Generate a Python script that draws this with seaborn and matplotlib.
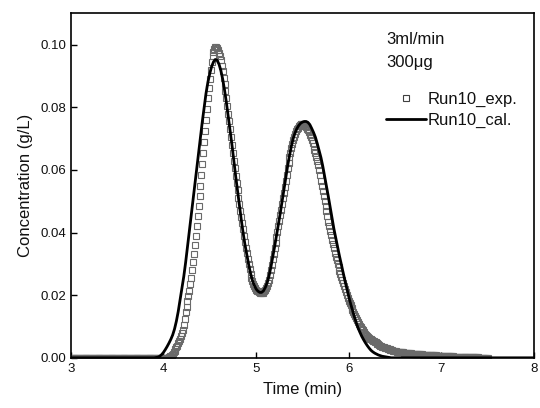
import numpy as np
import pandas as pd
import matplotlib
matplotlib.use("Agg")
import matplotlib.pyplot as plt
from matplotlib.lines import Line2D
from matplotlib.ticker import FormatStrFormatter
import seaborn as sns

# experimental points, one every 0.01 min from 3.00 to 7.50
exp_t = np.round(np.arange(3.00, 7.5001, 0.01), 2)
exp_c = [
    0, 0, 0, 0, 0, 0, 0, 0, 0, 0,
    0, 0, 0, 0, 0, 0, 0, 0, 0, 0,
    0, 0, 0, 0, 0, 0, 0, 0, 0, 0,
    0, 0, 0, 0, 0, 0, 0, 0, 0, 0,
    0, 0, 0, 0, 0, 0, 0, 0, 0, 0,
    0, 0, 0, 0, 0, 0, 0, 0, 0, 0,
    0, 0, 0, 0, 0, 0, 0, 0, 0, 0,
    0, 0, 0, 0, 0, 0, 0, 0, 0, 0,
    0, 0, 0, 0, 0, 0, 0, 0, 0, 0,
    0, 0, 0, 0, 0, 0, 0, 0, 0, 0,
    0, 0, 0, 0, 0, 0.0001, 0.0003, 0.0005, 0.0007, 0.0010,
    0.0013, 0.0017, 0.0022, 0.0027, 0.0033, 0.0039, 0.0046, 0.0053, 0.0060, 0.0069,
    0.0078, 0.0090, 0.0105, 0.0124, 0.0145, 0.0162, 0.0180, 0.0197, 0.0215, 0.0235,
    0.0255, 0.0280, 0.0305, 0.0332, 0.0360, 0.0390, 0.0420, 0.0452, 0.0485, 0.0517,
    0.0550, 0.0585, 0.0620, 0.0655, 0.0690, 0.0725, 0.0760, 0.0795, 0.0830, 0.0862,
    0.0890, 0.0920, 0.0945, 0.0964, 0.0978, 0.0988, 0.0993, 0.0994, 0.0990, 0.0984,
    0.0975, 0.0964, 0.0950, 0.0933, 0.0915, 0.0895, 0.0875, 0.0853, 0.0830, 0.0805,
    0.0780, 0.0755, 0.0730, 0.0705, 0.0680, 0.0655, 0.0630, 0.0605, 0.0580, 0.0557,
    0.0535, 0.0512, 0.0490, 0.0470, 0.0450, 0.0430, 0.0410, 0.0390, 0.0370, 0.0352,
    0.0335, 0.0317, 0.0300, 0.0284, 0.0268, 0.0256, 0.0245, 0.0236, 0.0228, 0.0223,
    0.0218, 0.0215, 0.0212, 0.0210, 0.0208, 0.0207, 0.0207, 0.0208, 0.0210, 0.0213,
    0.0218, 0.0223, 0.0230, 0.0240, 0.0250, 0.0265, 0.0280, 0.0297, 0.0315, 0.0332,
    0.0350, 0.0367, 0.0385, 0.0402, 0.0420, 0.0437, 0.0455, 0.0472, 0.0490, 0.0509,
    0.0528, 0.0546, 0.0565, 0.0585, 0.0605, 0.0622, 0.0640, 0.0655, 0.0670, 0.0683,
    0.0695, 0.0705, 0.0715, 0.0723, 0.0730, 0.0735, 0.0740, 0.0743, 0.0746, 0.0747,
    0.0747, 0.0745, 0.0743, 0.0740, 0.0737, 0.0732, 0.0727, 0.0720, 0.0712, 0.0704,
    0.0696, 0.0686, 0.0676, 0.0665, 0.0654, 0.0642, 0.0630, 0.0615, 0.0600, 0.0583,
    0.0565, 0.0548, 0.0532, 0.0516, 0.0500, 0.0484, 0.0468, 0.0452, 0.0435, 0.0420,
    0.0405, 0.0391, 0.0377, 0.0363, 0.0350, 0.0336, 0.0322, 0.0311, 0.0300, 0.0289,
    0.0278, 0.0267, 0.0257, 0.0248, 0.0240, 0.0230, 0.0220, 0.0210, 0.0200, 0.0191,
    0.0183, 0.0175, 0.0168, 0.0160, 0.0153, 0.0146, 0.0140, 0.0133, 0.0127, 0.0121,
    0.0115, 0.0109, 0.0103, 0.0098, 0.0093, 0.0088, 0.0084, 0.0080, 0.0076, 0.0072,
    0.0069, 0.0066, 0.0063, 0.0061, 0.0059, 0.0057, 0.0055, 0.0053, 0.0051, 0.0049,
    0.0047, 0.0045, 0.0043, 0.0041, 0.0039, 0.0037, 0.0036, 0.0034, 0.0033, 0.0032,
    0.0031, 0.0030, 0.0029, 0.0028, 0.0027, 0.0026, 0.0025, 0.0024, 0.0023, 0.0022,
    0.0021, 0.0021, 0.0020, 0.0020, 0.0019, 0.0019, 0.0018, 0.0018, 0.0017, 0.0017,
    0.0016, 0.0016, 0.0015, 0.0015, 0.0015, 0.0015, 0.0014, 0.0014, 0.0013, 0.0013,
    0.0013, 0.0013, 0.0012, 0.0012, 0.0012, 0.0012, 0.0011, 0.0011, 0.0011, 0.0011,
    0.0010, 0.0010, 0.0010, 0.0010, 0.0009, 0.0009, 0.0009, 0.0009, 0.0009, 0.0008,
    0.0008, 0.0008, 0.0008, 0.0008, 0.0008, 0.0007, 0.0007, 0.0007, 0.0007, 0.0007,
    0.0007, 0.0006, 0.0006, 0.0006, 0.0006, 0.0006, 0.0006, 0.0005, 0.0005, 0.0005,
    0.0005, 0.0005, 0.0005, 0.0004, 0.0004, 0.0004, 0.0004, 0.0004, 0.0004, 0.0004,
    0.0004, 0.0003, 0.0003, 0.0003, 0.0003, 0.0003, 0.0003, 0.0003, 0.0003, 0.0002,
    0.0002, 0.0002, 0.0002, 0.0002, 0.0002, 0.0002, 0.0002, 0.0002, 0.0002, 0.0002,
    0.0001, 0.0001, 0.0001, 0.0001, 0.0001, 0.0001, 0.0001, 0.0001, 0.0001, 0.0001,
    0.0001,
]

# calculated curve, 0.02 min steps from 3.90 to 6.50, flat zero outside
cal_t = np.concatenate([[3.0], np.round(np.arange(3.90, 6.501, 0.02), 2), [8.0]])
cal_c = [0.0,
    0.0, 0.0001, 0.0002, 0.0005, 0.0010, 0.0017, 0.0026, 0.0036, 0.0047, 0.0059,
    0.0073, 0.0092, 0.0117, 0.0148, 0.0185, 0.0222, 0.0260, 0.0305, 0.0355, 0.0405,
    0.0455, 0.0505, 0.0555, 0.0605, 0.0654, 0.0705, 0.0755, 0.0800, 0.0845, 0.0880,
    0.0908, 0.0930, 0.0945, 0.0953, 0.0950, 0.0938, 0.0918, 0.0890, 0.0855, 0.0815,
    0.0770, 0.0725, 0.0680, 0.0630, 0.0580, 0.0535, 0.0488, 0.0442, 0.0400, 0.0362,
    0.0330, 0.0298, 0.0270, 0.0248, 0.0232, 0.0220, 0.0213, 0.0209, 0.0209, 0.0214,
    0.0225, 0.0240, 0.0262, 0.0290, 0.0322, 0.0355, 0.0390, 0.0425, 0.0460, 0.0498,
    0.0535, 0.0575, 0.0612, 0.0645, 0.0675, 0.0700, 0.0718, 0.0732, 0.0742, 0.0749,
    0.0753, 0.0755, 0.0755, 0.0752, 0.0745, 0.0733, 0.0720, 0.0705, 0.0685, 0.0662,
    0.0640, 0.0612, 0.0580, 0.0548, 0.0515, 0.0480, 0.0445, 0.0412, 0.0383, 0.0355,
    0.0325, 0.0298, 0.0272, 0.0245, 0.0220, 0.0196, 0.0173, 0.0152, 0.0132, 0.0113,
    0.0096, 0.0082, 0.0069, 0.0058, 0.0048, 0.0039, 0.0031, 0.0024, 0.0019, 0.0015,
    0.0012, 0.0009, 0.0007, 0.0005, 0.0004, 0.0003, 0.0002, 0.0001, 0.0, 0.0,
    0.0,
    0.0]

exp_df = pd.DataFrame({"t": exp_t, "c": exp_c})
cal_df = pd.DataFrame({"t": cal_t, "c": cal_c})

sns.set_theme(style="ticks")
plt.rcParams["font.family"] = ["Liberation Sans", "DejaVu Sans"]
plt.rcParams["text.color"] = "#111111"
plt.rcParams["axes.labelcolor"] = "#111111"

fig = plt.figure(figsize=(5.4, 4.08), dpi=100)
ax = fig.add_axes([0.131, 0.123, 0.858, 0.844])

ax.plot(exp_df["t"], exp_df["c"], ls="none", marker="s", ms=5,
        mfc="none", mec="#6a6a6a", mew=0.8)
sns.lineplot(data=cal_df, x="t", y="c", color="black", lw=2, ax=ax)

ax.set_xlim(3, 8)
ax.set_ylim(0, 0.11)
ax.set_xticks([3, 4, 5, 6, 7, 8])
ax.set_yticks([0, 0.02, 0.04, 0.06, 0.08, 0.10])
ax.yaxis.set_major_formatter(FormatStrFormatter("%.2f"))
ax.tick_params(direction="in", length=4, width=1, labelsize=9.5,
               colors="black", labelcolor="#111111")
for s in ax.spines.values():
    s.set_visible(True)
    s.set_linewidth(1.2)
    s.set_color("black")
ax.set_xlabel("Time (min)", fontsize=12, labelpad=5)
ax.set_ylabel("Concentration (g/L)", fontsize=12, labelpad=5)

fig.text(386 / 540, 1 - 40 / 408, "3ml/min", fontsize=12, va="center")
fig.text(386 / 540, 1 - 62 / 408, "300\u03bcg", fontsize=12, va="center")

handles = [
    Line2D([], [], ls="none", marker="s", ms=4, mfc="none", mec="#404040", mew=0.8),
    Line2D([], [], color="black", lw=2),
]
ax.legend(handles, ["Run10_exp.", "Run10_cal."], frameon=False, fontsize=12,
          loc="upper left", bbox_to_anchor=(386 / 540, 1 - 92 / 408),
          bbox_transform=fig.transFigure, handlelength=2.4, handletextpad=0.12,
          labelspacing=0.35, borderpad=0, borderaxespad=0)

fig.savefig("out.png", dpi=100)
